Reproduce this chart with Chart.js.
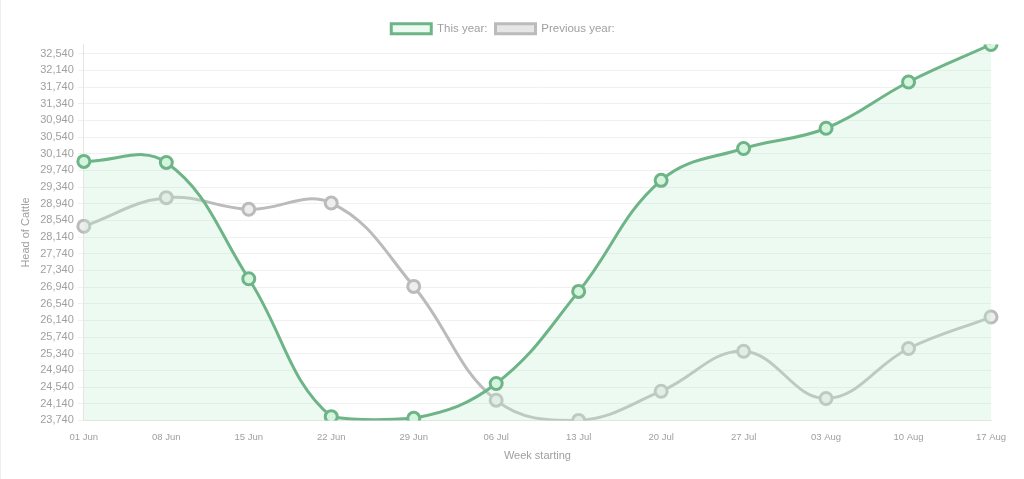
<!DOCTYPE html>
<html lang="en">
<head>
  <meta charset="UTF-8">
  <title>Head of Cattle</title>
  <style>
    html, body {
      margin: 0;
      padding: 0;
      background: #fff;
    }
    #wrap {
      width: 1023px;
      height: 479px;
      border-left: 1px solid #eee;
    }
  </style>
</head>
<body>
  <div id="wrap"><canvas id="cattle-chart"></canvas></div>

  <script src="https://cdn.jsdelivr.net/npm/chart.js"></script>
  <script>
    // week labels
    const weeks = ['01 Jun', '08 Jun', '15 Jun', '22 Jun', '29 Jun', '06 Jul',
                   '13 Jul', '20 Jul', '27 Jul', '03 Aug', '10 Aug', '17 Aug'];

    // head of cattle
    const thisYear = [29955, 29930, 27140, 23830, 23790, 24625,
                      26835, 29500, 30265, 30750, 31860, 32760];
    const previousYear = [28400, 29085, 28805, 28955, 26955, 24225,
                          23740, 24440, 25400, 24265, 25465, 26220];

    // y axis tick values
    const yTicks = [23740, 24140, 24540, 24940, 25340, 25740, 26140, 26540,
                    26940, 27340, 27740, 28140, 28540, 28940, 29340, 29740,
                    30140, 30540, 30940, 31340, 31740, 32140, 32540];

    const allValues = thisYear.concat(previousYear);
    const font = 'Liberation Sans, Arial, Helvetica, sans-serif';
    const grey = '#a0a0a0';

    Chart.defaults.font.family = font;
    Chart.defaults.color = grey;

    new Chart(document.getElementById('cattle-chart'), {
      type: 'line',
      data: {
        labels: weeks,
        datasets: [{
          label: 'This year:',
          data: thisYear,
          borderColor: '#6db487',
          backgroundColor: 'rgba(196, 240, 208, 0.3)',
          pointBackgroundColor: '#d6f5de',
          pointBorderColor: '#6db487',
          borderWidth: 3,
          pointRadius: 6,
          pointBorderWidth: 3,
          tension: 0.4,
          fill: 'start'
        }, {
          label: 'Previous year:',
          data: previousYear,
          borderColor: '#bbbbbb',
          backgroundColor: '#e6e6e6',
          pointBackgroundColor: '#eeeeee',
          pointBorderColor: '#bbbbbb',
          borderWidth: 3,
          pointRadius: 6,
          pointBorderWidth: 3,
          tension: 0.4,
          fill: false
        }]
      },
      options: {
        responsive: true,
        maintainAspectRatio: false,
        animation: false,
        layout: {
          padding: { top: 15, right: 33, bottom: 12, left: 14 }
        },
        plugins: {
          legend: {
            labels: {
              boxWidth: 40,
              boxHeight: 10,
              padding: 8,
              font: { size: 11.5 },
              color: grey
            }
          },
          tooltip: { enabled: false }
        },
        scales: {
          x: {
            grid: { display: false },
            border: { color: '#e5e5e5' },
            ticks: { font: { size: 9.5 }, color: grey, maxRotation: 0 },
            title: { display: true, text: 'Week starting', font: { size: 11 }, color: grey, padding: { top: 4 } }
          },
          y: {
            min: Math.min(...allValues),
            max: Math.max(...allValues),
            afterBuildTicks: function (axis) {
              axis.ticks = yTicks.map(v => ({ value: v }));
            },
            grid: { color: '#f0f0f0', tickLength: 6 },
            border: { color: '#e5e5e5' },
            ticks: {
              font: { size: 11 },
              color: grey,
              padding: 4,
              callback: v => v.toLocaleString('en-US')
            },
            title: { display: true, text: 'Head of Cattle', font: { size: 11 }, color: grey }
          }
        }
      }
    });
  </script>
</body>
</html>
